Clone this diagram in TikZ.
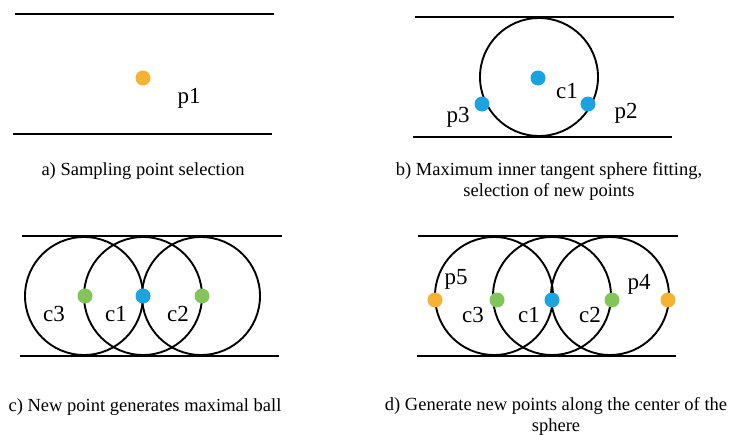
\documentclass[tikz,border=0pt]{standalone}
\usepackage{fontspec}
\setmainfont{Liberation Serif}
\definecolor{dorange}{HTML}{F6B233}
\definecolor{dblue}{HTML}{1BA3E0}
\definecolor{dgreen}{HTML}{82C55A}
\begin{document}
\begin{tikzpicture}[x=1pt,y=-1pt,
  wall/.style={line width=2pt},
  ball/.style={line width=1.9pt},
  dot/.style={circle,inner sep=0pt,minimum size=15pt},
  lbl/.style={font=\fontsize{23}{23}\selectfont,inner sep=0pt},
  captxt/.style={font=\fontsize{18.5}{21}\selectfont,align=center,inner sep=0pt}]
\useasboundingbox (0,0) rectangle (730,434);

% ---- panel a
\draw[wall] (15,14) -- (274,14);
\draw[wall] (13,134) -- (272,134);
\node[dot,fill=dorange] (ap1) at (143,78) {};
\node[lbl] (ap1l) at (189,98) {p1};
\node[captxt] (capa) at (143,171) {a) Sampling point selection};

% ---- panel b
\draw[wall] (415,17) -- (674,17);
\draw[wall] (413,137) -- (672,137);
\draw[ball] (539,77) circle (59);
\node[dot,fill=dblue] (bc1) at (538,78) {};
\node[dot,fill=dblue] (bp3) at (482,104) {};
\node[dot,fill=dblue] (bp2) at (588,104) {};
\node[lbl] (bc1l) at (567,91) {c1};
\node[lbl] (bp3l) at (458,117) {p3};
\node[lbl] (bp2l) at (626,113) {p2};
\node[captxt] (capb) at (549,181) {b) Maximum inner tangent sphere fitting,\\selection of new points};

% ---- panel c
\draw[wall] (22,236) -- (282,236);
\draw[wall] (20,356) -- (279,356);
\draw[ball] (84,296) circle (59);
\draw[ball] (143,296) circle (59);
\draw[ball] (201,296) circle (59);
\node[dot,fill=dgreen] (cc3) at (85,296) {};
\node[dot,fill=dblue] (cc1) at (143,296) {};
\node[dot,fill=dgreen] (cc2) at (202,296) {};
\node[lbl] (cc3l) at (54,314) {c3};
\node[lbl] (cc1l) at (116,314) {c1};
\node[lbl] (cc2l) at (178,314) {c2};
\node[captxt] (capc) at (145,407) {c) New point generates maximal ball};

% ---- panel d
\draw[wall] (418,236) -- (678,236);
\draw[wall] (417,356) -- (676,356);
\draw[ball] (494,296) circle (59);
\draw[ball] (552,296) circle (59);
\draw[ball] (610,296) circle (59);
\node[dot,fill=dorange] (dp5) at (435,300) {};
\node[dot,fill=dgreen] (dc3) at (497,300) {};
\node[dot,fill=dblue] (dc1) at (552,300) {};
\node[dot,fill=dgreen] (dc2) at (612,300) {};
\node[dot,fill=dorange] (dp4) at (668,300) {};
\node[lbl] (dp5l) at (456,279) {p5};
\node[lbl] (dp4l) at (639,284) {p4};
\node[lbl] (dc3l) at (473,315) {c3};
\node[lbl] (dc1l) at (529,315) {c1};
\node[lbl] (dc2l) at (590,315) {c2};
\node[captxt] (capd) at (556,416) {d) Generate new points along the center of the\\sphere};
\end{tikzpicture}
\end{document}
